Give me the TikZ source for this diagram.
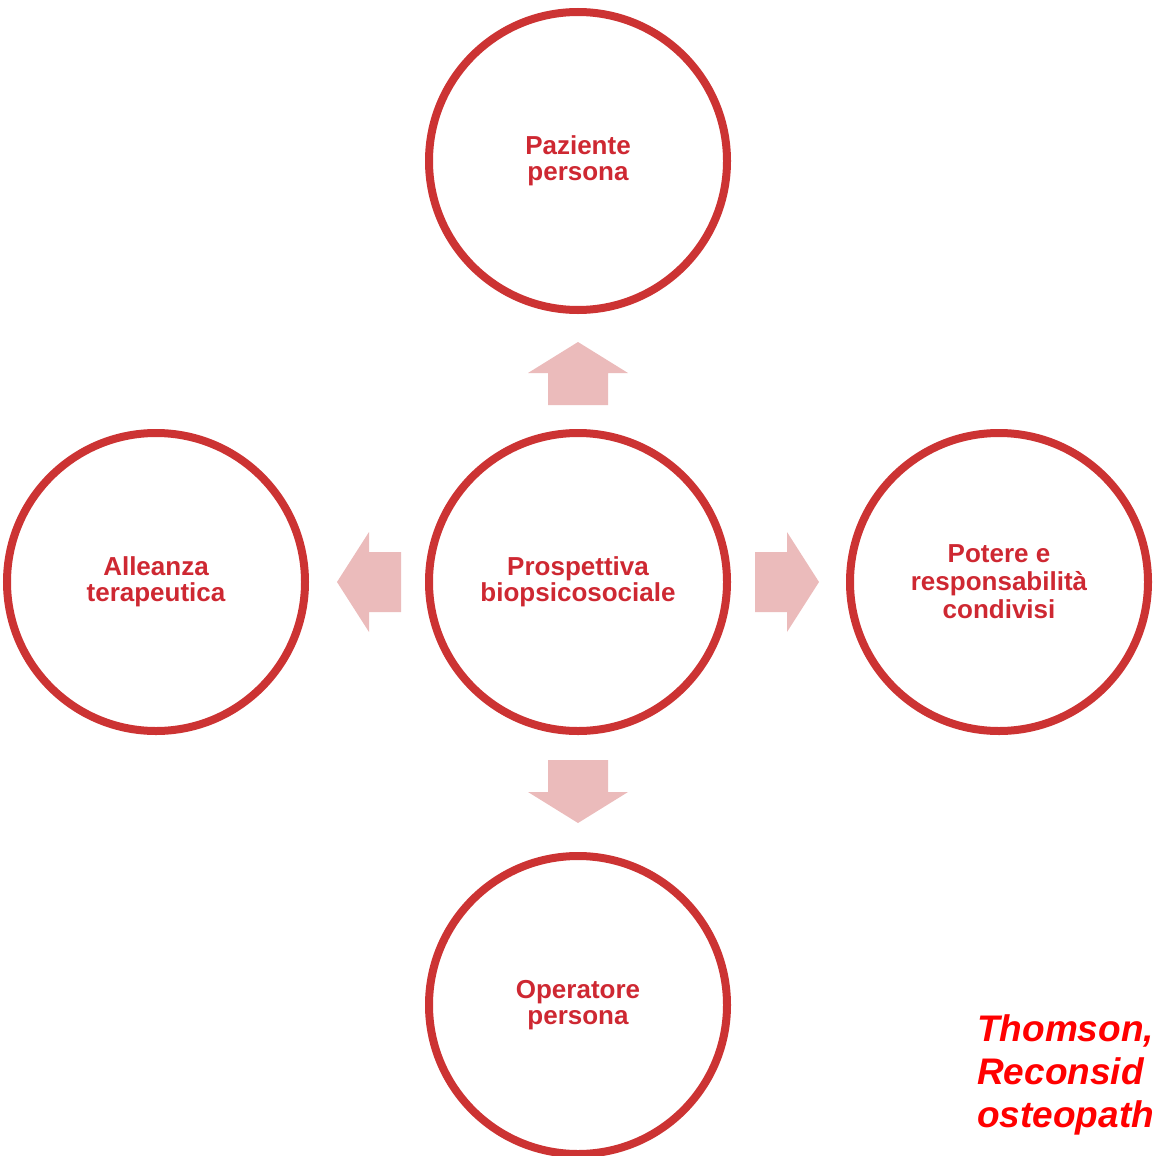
\documentclass[tikz,border=0pt]{standalone}
\usepackage{fontspec}
\setmainfont{Liberation Sans}
\definecolor{circred}{RGB}{204,51,51}
\definecolor{txtred}{RGB}{206,40,50}
\definecolor{arrpink}{RGB}{235,187,187}
\definecolor{citered}{RGB}{255,0,0}
\begin{document}
\begin{tikzpicture}[x=1pt,y=-1pt,
  bubble/.style={circle,draw=circred,line width=8pt,minimum size=298pt,inner sep=0pt,
    text=txtred,font=\fontsize{26}{26}\selectfont\bfseries,align=center},
  blockarrow/.style={fill=arrpink,draw=none}]
\useasboundingbox (0,0) rectangle (1153,1156);
\begin{scope}
\clip (0,0) rectangle (1153,1156);
\node[bubble] (top) at (578,161) {Paziente\\persona};
\node[bubble] (center) at (578,582) {Prospettiva\\biopsicosociale};
\node[bubble] (left) at (156,582) {Alleanza\\terapeutica};
\node[bubble,font=\fontsize{26}{28}\selectfont\bfseries] (right) at (999,582) {Potere e\\responsabilità\\condivisi};
\node[bubble] (bottom) at (578,1005) {Operatore\\persona};
% block arrows
\fill[blockarrow] (548,405) -- (548,373) -- (528,373) -- (578,342) -- (628,373) -- (608,373) -- (608,405) -- cycle;
\fill[blockarrow] (548,760) -- (548,792) -- (528,792) -- (578,823) -- (628,792) -- (608,792) -- (608,760) -- cycle;
\fill[blockarrow] (401,552) -- (369,552) -- (369,532) -- (337,582) -- (369,632) -- (369,612) -- (401,612) -- cycle;
\fill[blockarrow] (755,552) -- (787,552) -- (787,532) -- (819,582) -- (787,632) -- (787,612) -- (755,612) -- cycle;
\node[anchor=north west,align=left,inner sep=0pt,text=citered,
  font=\fontsize{37}{43}\selectfont\bfseries\itshape] (cite) at (977,1014)
  {Thomson,\\Reconsid\\osteopath};
\end{scope}
\end{tikzpicture}
\end{document}
